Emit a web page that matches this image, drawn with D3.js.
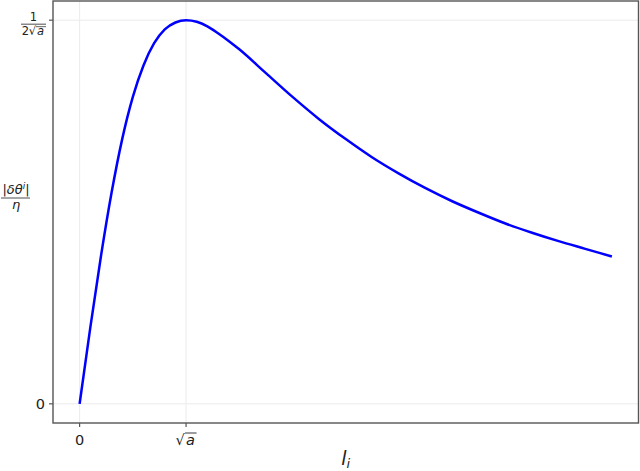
<!DOCTYPE html>
<html>
<head>
<meta charset="utf-8">
<script src="https://cdn.jsdelivr.net/npm/d3@7"></script>
<style>
  body{margin:0;background:#fff;}
  text{font-family:"DejaVu Sans",sans-serif;fill:#222;}
</style>
</head>
<body>
<svg id="chart" width="640" height="471"></svg>
<script>
// values (a = 1, so sqrt(a) = 1 and peak = 1/(2 sqrt a) = 0.5)
let lValues=[0,0.1,0.2,0.3,0.4,0.5,0.6,0.7,0.8,0.9,1.0,1.1,1.2,1.3,1.4,1.5,1.75,2,2.25,2.5,2.75,3,3.25,3.5,3.75,4,4.25,4.5,4.75,5];
let dThetaValues=[0,0.099,0.192,0.275,0.345,0.40,0.441,0.470,0.488,0.497,0.50,0.498,0.492,0.483,0.473,0.462,0.431,0.40,0.371,0.345,0.321,0.30,0.281,0.264,0.249,0.235,0.223,0.212,0.202,0.192];
let xTicks=[0,1];       // 0, sqrt(a)
let yTicks=[0,0.5];     // 0, 1/(2 sqrt a)

let svg=d3.select("#chart");
let pLeft=53,pRight=638.5,pTop=1,pBottom=423;

let x=d3.scaleLinear().domain([-0.25,5.25]).range([pLeft,pRight]);
let y=d3.scaleLinear().domain([-0.025,0.525]).range([pBottom,pTop]);

// grid
svg.selectAll(".vgrid").data(xTicks).enter().append("line")
    .attr("x1",d=>x(d)).attr("x2",d=>x(d))
    .attr("y1",pTop).attr("y2",pBottom)
    .attr("stroke","#ebebeb").attr("stroke-width",1);
svg.selectAll(".hgrid").data(yTicks).enter().append("line")
    .attr("y1",d=>y(d)).attr("y2",d=>y(d))
    .attr("x1",pLeft).attr("x2",pRight)
    .attr("stroke","#ebebeb").attr("stroke-width",1);

// curve
let pts=lValues.map((v,i)=>[v,dThetaValues[i]]);
let line=d3.line().x(d=>x(d[0])).y(d=>y(d[1])).curve(d3.curveMonotoneX);
svg.append("path").datum(pts)
    .attr("d",line)
    .attr("fill","none")
    .attr("stroke","#0000ff")
    .attr("stroke-width",2.5)
    .attr("stroke-linejoin","round");

// frame
svg.append("rect")
    .attr("x",pLeft).attr("y",pTop)
    .attr("width",pRight-pLeft).attr("height",pBottom-pTop)
    .attr("fill","none").attr("stroke","#555").attr("stroke-width",1.4);

// ticks
svg.selectAll(".xt").data(xTicks).enter().append("line")
    .attr("x1",d=>x(d)).attr("x2",d=>x(d))
    .attr("y1",pBottom).attr("y2",pBottom+4)
    .attr("stroke","#555").attr("stroke-width",1.2);
svg.selectAll(".yt").data(yTicks).enter().append("line")
    .attr("y1",d=>y(d)).attr("y2",d=>y(d))
    .attr("x1",pLeft-4).attr("x2",pLeft)
    .attr("stroke","#555").attr("stroke-width",1.2);

// x tick labels
svg.append("text").attr("x",x(0)).attr("y",445)
    .attr("text-anchor","middle").attr("font-size",14.5).text("0");
let sq=svg.append("g").attr("transform","translate("+x(1)+",445)");
sq.append("text").attr("x",-6).attr("text-anchor","middle").attr("font-size",14.5).text("√");
sq.append("text").attr("x",4.5).attr("text-anchor","middle").attr("font-size",14.5)
    .attr("font-style","italic").text("a");
sq.append("line").attr("x1",-1).attr("x2",10.5).attr("y1",-12).attr("y2",-12)
    .attr("stroke","#222").attr("stroke-width",0.9);

// y tick labels
svg.append("text").attr("x",pLeft-8).attr("y",y(0)+5)
    .attr("text-anchor","end").attr("font-size",14.5).text("0");
let fr=svg.append("g").attr("transform","translate(33.5,"+y(0.5)+")");
fr.append("text").attr("x",0).attr("y",1).attr("text-anchor","middle").attr("font-size",11.5).text("1");
fr.append("line").attr("x1",-12.5).attr("x2",12.5).attr("y1",4).attr("y2",4)
    .attr("stroke","#222").attr("stroke-width",0.8);
fr.append("text").attr("x",-8).attr("y",15).attr("text-anchor","middle").attr("font-size",11.5).text("2");
fr.append("text").attr("x",-1).attr("y",15).attr("text-anchor","middle").attr("font-size",11.5).text("√");
fr.append("text").attr("x",7).attr("y",15).attr("text-anchor","middle").attr("font-size",11.5)
    .attr("font-style","italic").text("a");
fr.append("line").attr("x1",2.5).attr("x2",12.5).attr("y1",6.5).attr("y2",6.5)
    .attr("stroke","#222").attr("stroke-width",0.7);

// y axis label: |δθ^i| / η
let yl=svg.append("g").attr("transform","translate(16,197)");
let num=yl.append("text").attr("y",-3).attr("text-anchor","middle").attr("font-size",13);
num.append("tspan").text("|");
num.append("tspan").attr("font-style","italic").text("δθ");
num.append("tspan").attr("font-style","italic").attr("font-size",9).attr("dy",-5).text("i");
num.append("tspan").attr("dy",5).text("|");
yl.append("line").attr("x1",-15).attr("x2",14).attr("y1",1).attr("y2",1)
    .attr("stroke","#222").attr("stroke-width",0.8);
yl.append("text").attr("y",12).attr("text-anchor","middle").attr("font-size",13)
    .attr("font-style","italic").text("η");

// x axis label: l_i
let xl=svg.append("text").attr("x",(pLeft+pRight)/2).attr("y",465)
    .attr("text-anchor","middle").attr("font-size",19);
xl.append("tspan").attr("font-style","italic").text("l");
xl.append("tspan").attr("font-style","italic").attr("font-size",13).attr("dy",3).text("i");
</script>
</body>
</html>
